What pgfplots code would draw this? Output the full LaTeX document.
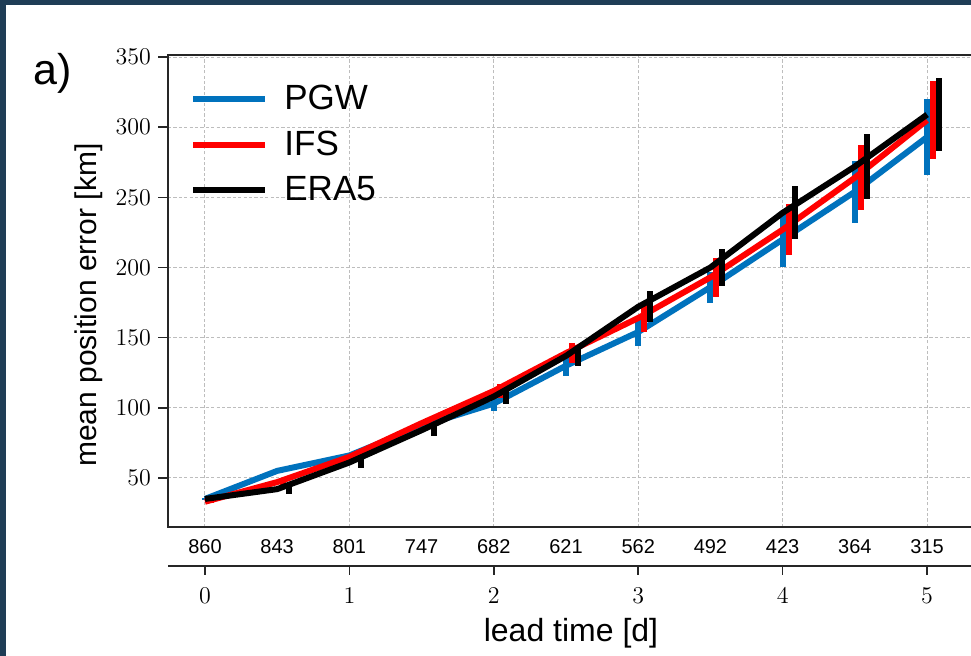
\documentclass[border=0pt]{standalone}
\usepackage{fontspec}
\setmainfont{Liberation Sans}
\usepackage{pgfplots}
\usepackage{pgfplotstable}
\pgfplotsset{compat=1.18}

\definecolor{PGWColor}{HTML}{0072BD}
\definecolor{IFSColor}{HTML}{FF0000}
\definecolor{ERAColor}{HTML}{000000}
\definecolor{FrameColor}{HTML}{1F3D56}
\definecolor{GridColor}{HTML}{BDBDBD}
\definecolor{SpineColor}{HTML}{262626}

% mean position error [km] and half width of the bars, every 12 h
\pgfplotstableread{
t     pgw   pgwerr  ifs   ifserr  era   eraerr
0.0   35    0.5     33    0.5     35    0.5
0.5   55    1.5     47    2.0     42    3.5
1.0   66    2.0     65    3.0     61    3.7
1.5   87    3.0     89    3.5     84    4.0
2.0   103   5.0     112   5.0     108   5.5
2.5   130   7.0     139   7.0     137   7.0
3.0   154   10      164   10      172   11
3.5   186   11      193   14      200   13.5
4.0   220   20      227   18      239   19
4.5   254   22      264   23      272   23
5.0   293   27      305   28      309   26
}\errortable

\begin{document}
\begin{tikzpicture}
    % frame of the panel
    \fill[FrameColor] (0,0) rectangle (485.5pt,-328pt);
    \fill[white] (3pt,-2.5pt) rectangle (485.5pt,-328pt);

    \begin{axis}[
        at={(84pt,-263.5pt)},
        anchor=south west,
        scale only axis,
        width=403pt,
        height=236pt,
        xmin=-0.256, xmax=5.325,
        ymin=15, ymax=351.5,
        xtick={0,1,2,3,4,5},
        xticklabels={},
        xtick style={draw=none},
        ytick={50,100,150,200,250,300,350},
        ytick pos=left,
        tick align=outside,
        major tick length=5pt,
        ytick style={SpineColor, line width=0.8pt},
        yticklabel style={font=\fontsize{12}{12}\selectfont},
        extra x ticks={0,0.5,1,1.5,2,2.5,3,3.5,4,4.5,5},
        extra x tick labels={860,843,801,747,682,621,562,492,423,364,315},
        extra x tick style={
            grid=none,
            major tick length=0pt,
            xticklabel style={
                font=\fontsize{10}{10}\selectfont,
                text height=7.2pt,
                text depth=0pt,
                yshift=-2.5pt
            }
        },
        grid=major,
        grid style={GridColor, line width=0.5pt, dash pattern=on 1.6pt off 1.1pt},
        axis line style={SpineColor, line width=1pt},
        ylabel={mean position error [km]},
        ylabel style={
            at={(axis description cs:-0.08,0.47)},
            anchor=south,
            inner sep=0pt,
            font=\fontsize{15}{15}\selectfont
        },
        legend image code/.code={
            \draw[#1] (0pt,0pt) -- (36pt,0pt);
        },
        legend cell align=left,
        legend style={
            draw=none,
            fill=none,
            inner sep=0pt,
            row sep=5.25pt,
            column sep=6pt,
            font=\fontsize{17.5}{17.5}\selectfont,
            at={(axis description cs:0.0273,0.946)},
            anchor=north west
        }
    ]

    % ---------- PGW ----------
    \addplot[PGWColor, line width=3pt, line join=round]
        table[x=t, y=pgw] {\errortable};
    \addlegendentry{PGW}
    \addplot[forget plot, draw=none, mark=none,
        error bars/.cd, y dir=both, y explicit, error mark=none,
        error bar style={draw=PGWColor, line width=3pt}]
        table[x=t, y=pgw, y error=pgwerr] {\errortable};

    % ---------- IFS (bars shifted by 1 h) ----------
    \addplot[IFSColor, line width=3pt, line join=round]
        table[x=t, y=ifs] {\errortable};
    \addlegendentry{IFS}
    \addplot[forget plot, draw=none, mark=none,
        error bars/.cd, y dir=both, y explicit, error mark=none,
        error bar style={draw=IFSColor, line width=3pt}]
        table[x expr=\thisrow{t}+0.0417, y=ifs, y error=ifserr] {\errortable};

    % ---------- ERA5 (bars shifted by 2 h) ----------
    \addplot[ERAColor, line width=3pt, line join=round]
        table[x=t, y=era] {\errortable};
    \addlegendentry{ERA5}
    \addplot[forget plot, draw=none, mark=none,
        error bars/.cd, y dir=both, y explicit, error mark=none,
        error bar style={draw=ERAColor, line width=3pt}]
        table[x expr=\thisrow{t}+0.0833, y=era, y error=eraerr] {\errortable};

    \end{axis}

    % second x axis: lead time in days
    \begin{axis}[
        at={(84pt,-283pt)},
        anchor=south west,
        scale only axis,
        width=403pt,
        height=10pt,
        xmin=-0.256, xmax=5.325,
        ymin=0, ymax=1,
        axis x line*=bottom,
        hide y axis,
        xtick={0,1,2,3,4,5},
        tick align=outside,
        major tick length=4.5pt,
        xtick style={SpineColor, line width=0.8pt},
        axis line style={SpineColor, line width=1pt},
        xticklabel style={font=\fontsize{12}{12}\selectfont, yshift=-3pt},
        xlabel={lead time [d]},
        xlabel style={
            at={(axis description cs:0.5,0)},
            anchor=base,
            yshift=-38pt,
            font=\fontsize{16}{16}\selectfont
        }
    ]
    \addplot[draw=none] coordinates {(0,0.5)};
    \end{axis}

    \node[anchor=base west, inner sep=0pt, font=\fontsize{21.5}{21.5}\selectfont]
        at (16.5pt,-42.5pt) {a)};

    \pgfresetboundingbox
    \useasboundingbox (0,0) rectangle (485.5pt,-328pt);
\end{tikzpicture}
\end{document}
